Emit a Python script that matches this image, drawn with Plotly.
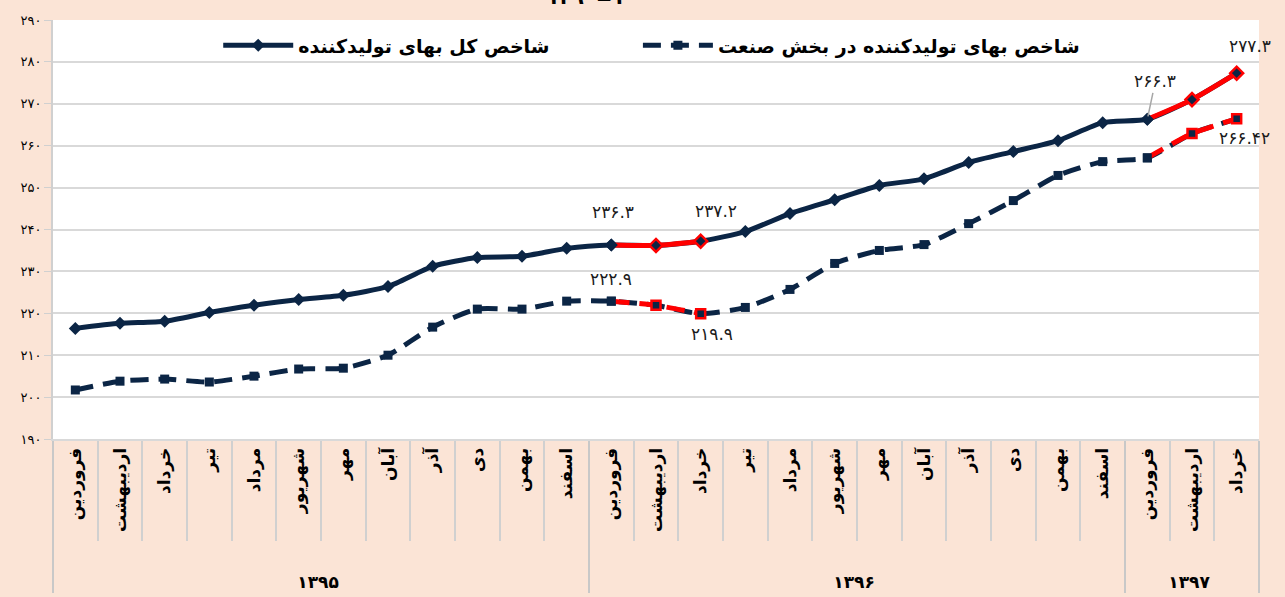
import plotly.graph_objects as go

# سال و ماه
years = ["۱۳۹۵"] * 12 + ["۱۳۹۶"] * 12 + ["۱۳۹۷"] * 3
month_names = ["فروردین", "اردیبهشت", "خرداد", "تیر", "مرداد", "شهریور",
               "مهر", "آبان", "آذر", "دی", "بهمن", "اسفند"]
months = month_names * 2 + month_names[:3]

# شاخص کل بهای تولیدکننده
ppi_total = [216.4, 217.6, 218.1, 220.2, 221.9, 223.3, 224.3, 226.4, 231.2,
             233.3, 233.6, 235.5, 236.3, 236.2, 237.2, 239.5, 243.8, 247.1,
             250.5, 252.1, 256.0, 258.6, 261.2, 265.5, 266.3, 271.0, 277.3]
# شاخص بهای تولیدکننده در بخش صنعت
ppi_industry = [201.7, 203.8, 204.3, 203.6, 205.0, 206.7, 206.9, 210.0, 216.7,
                221.0, 221.0, 222.9, 222.9, 221.9, 219.9, 221.4, 225.7, 231.9,
                235.0, 236.4, 241.4, 246.9, 252.9, 256.2, 257.1, 262.9, 266.42]

# نقاطی که با رنگ قرمز مشخص شده اند
red_idx = [12, 13, 14, 24, 25, 26]

y_ticks = [190, 200, 210, 220, 230, 240, 250, 260, 270, 280, 290]
y_tick_text = ["۱۹۰", "۲۰۰", "۲۱۰", "۲۲۰", "۲۳۰", "۲۴۰", "۲۵۰", "۲۶۰", "۲۷۰", "۲۸۰", "۲۹۰"]

# برچسب ها
labels_total = {12: "۲۳۶.۳", 14: "۲۳۷.۲", 24: "۲۶۶.۳", 26: "۲۷۷.۳"}
labels_industry = {12: "۲۲۲.۹", 14: "۲۱۹.۹", 26: "۲۶۶.۴۲"}

navy = "#0B2545"
red = "#FF0000"
bg = "#FBE4D6"
font = "DejaVu Sans"

# خط خالی پیش از سال تا برچسب سال پایین تر بنشیند
x = [["<br>" + y for y in years], months]


def red_part(vals):
    return [v if i in red_idx else None for i, v in enumerate(vals)]


marker_outline = [0 if i in (12, 24) else 2.5 for i in range(len(years))]

fig = go.Figure()

fig.add_trace(go.Scatter(
    x=x, y=ppi_total, name="شاخص کل بهای تولیدکننده",
    mode="lines+markers", legend="legend",
    line=dict(color=navy, width=5, shape="spline", smoothing=0.6),
    marker=dict(symbol="diamond", size=10, color=navy),
))
fig.add_trace(go.Scatter(
    x=x, y=ppi_industry, name="شاخص بهای تولیدکننده در بخش صنعت",
    mode="lines+markers", legend="legend2",
    line=dict(color=navy, width=5, dash="18px,10px", shape="spline", smoothing=0.6),
    marker=dict(symbol="square", size=9, color=navy),
))
fig.add_trace(go.Scatter(
    x=x, y=red_part(ppi_total), mode="lines+markers", showlegend=False,
    connectgaps=False,
    line=dict(color=red, width=5, shape="spline", smoothing=0.6),
    marker=dict(symbol="diamond", size=10, color=navy,
                line=dict(color=red, width=marker_outline)),
))
fig.add_trace(go.Scatter(
    x=x, y=red_part(ppi_industry), mode="lines+markers", showlegend=False,
    connectgaps=False,
    line=dict(color=red, width=5, dash="18px,10px", shape="spline", smoothing=0.6),
    marker=dict(symbol="square", size=9, color=navy,
                line=dict(color=red, width=marker_outline)),
))

# برچسب مقادیر
offsets_total = {12: (2, 33), 14: (15, 30), 26: (13, 27)}
offsets_industry = {12: (0, 22), 14: (11, -20), 26: (8, -19)}
label_font = dict(family=font, size=17, color="#1a1a1a")
for i, txt in labels_total.items():
    if i == 24:
        fig.add_annotation(x=i, y=ppi_total[i], text=txt, showarrow=True,
                           arrowhead=0, arrowcolor="#A6A6A6", arrowwidth=1.5,
                           ax=8, ay=-38, standoff=3, font=label_font)
    else:
        dx, dy = offsets_total[i]
        fig.add_annotation(x=i, y=ppi_total[i], text=txt, showarrow=False,
                           xshift=dx, yshift=dy, font=label_font)
for i, txt in labels_industry.items():
    dx, dy = offsets_industry[i]
    fig.add_annotation(x=i, y=ppi_industry[i], text=txt, showarrow=False,
                       xshift=dx, yshift=dy, font=label_font)

# عنوان (بریده شده در بالای تصویر)
fig.add_annotation(xref="paper", yref="paper", x=0.452, y=1, yanchor="bottom",
                   yshift=9, showarrow=False, text="<b>۱۳۹۰=۱۰۰</b>",
                   font=dict(family=font, size=20, color="black"))

legend_font = dict(family=font, size=19, weight="bold", color="black")
fig.update_layout(
    width=1285, height=597,
    margin=dict(l=53, r=26, t=20, b=158),
    paper_bgcolor=bg, plot_bgcolor="white",
    font=dict(family=font, color="black"),
    showlegend=True,
    legend=dict(orientation="h", x=0.137, y=0.985, xanchor="left", yanchor="top",
                bgcolor="rgba(255,255,255,0)", itemwidth=70, font=legend_font),
    legend2=dict(orientation="h", x=0.485, y=0.985, xanchor="left", yanchor="top",
                 bgcolor="rgba(255,255,255,0)", itemwidth=70, font=legend_font),
)

fig.update_xaxes(
    type="multicategory",
    range=[-0.5, len(months) - 0.5],
    automargin=False,
    tickangle=-90,
    tickfont=dict(family=font, size=17, weight="bold", color="black"),
    showgrid=False,
    showline=True, linecolor="#D9D9D9", linewidth=2,
    ticks="outside", tickson="boundaries", ticklen=100, tickcolor="#D0D0D0", tickwidth=2,
    showdividers=True, dividercolor="#C8C8C8", dividerwidth=2,
)
fig.update_yaxes(
    range=[190, 290],
    automargin=False,
    tickvals=y_ticks, ticktext=y_tick_text,
    tickfont=dict(family=font, size=13, color="black"),
    showgrid=True, gridcolor="#D9D9D9", gridwidth=2,
    showline=True, linecolor="#D0D0D0", linewidth=2,
    ticks="outside", ticklen=7, tickcolor="#D0D0D0",
    zeroline=False,
)

fig.write_html("out.html", config={"displayModeBar": False},
               post_script="document.body.style.margin='0';document.body.style.overflow='hidden';")
